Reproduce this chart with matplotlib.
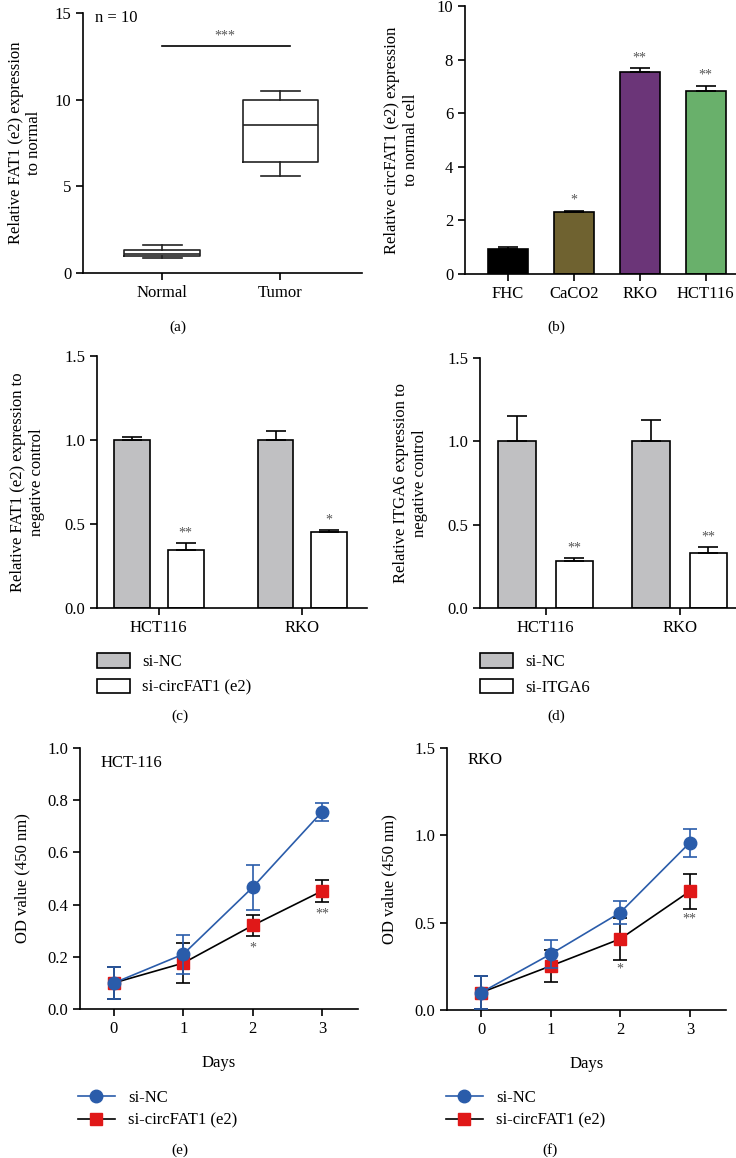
import numpy as np
import matplotlib
matplotlib.use("Agg")
import matplotlib.pyplot as plt
from matplotlib.patches import Patch
from matplotlib.lines import Line2D

plt.rcParams['font.family'] = ['Liberation Serif', 'DejaVu Serif']
plt.rcParams['font.size'] = 12

# (a) box plot
box_groups = ["Normal", "Tumor"]
box_whislo = [0.87, 5.62]
box_q1 = [1.0, 6.4]
box_med = [1.12, 8.52]
box_q3 = [1.3, 9.96]
box_whishi = [1.6, 10.5]

# (b) cell lines
cell_lines = ["FHC", "CaCO2", "RKO", "HCT116"]
cell_vals = [0.94, 2.3, 7.52, 6.82]
cell_err = [0.08, 0.05, 0.16, 0.21]
cell_stars = ["", "*", "**", "**"]
cell_colors = ["#000000", "#6f6230", "#6b3578", "#69b06b"]

# (c) / (d) knockdown bars
kd_groups = ["HCT116", "RKO"]
c_nc = [1.0, 1.0]
c_nc_err = [0.015, 0.055]
c_si = [0.345, 0.45]
c_si_err = [0.04, 0.015]
c_stars = ["**", "*"]
d_nc = [1.0, 1.0]
d_nc_err = [0.15, 0.13]
d_si = [0.28, 0.33]
d_si_err = [0.02, 0.035]
d_stars = ["**", "**"]

# (e) / (f) growth curves
days = [0, 1, 2, 3]
e_nc = [0.1, 0.21, 0.466, 0.755]
e_nc_err = [0.06, 0.075, 0.085, 0.033]
e_si = [0.1, 0.176, 0.32, 0.452]
e_si_err = [0.06, 0.078, 0.04, 0.042]
e_stars = ["", "", "*", "**"]
f_nc = [0.1, 0.32, 0.558, 0.958]
f_nc_err = [0.097, 0.08, 0.068, 0.08]
f_si = [0.1, 0.252, 0.407, 0.68]
f_si_err = [0.097, 0.09, 0.118, 0.1]
f_stars = ["", "", "*", "**"]

W, H = 736, 1158
fig = plt.figure(figsize=(W / 100, H / 100), dpi=100)


def px_axes(x0, y0, x1, y1):
    return fig.add_axes([x0 / W, 1 - y1 / H, (x1 - x0) / W, (y1 - y0) / H])


def style(ax):
    for s in ["top", "right"]:
        ax.spines[s].set_visible(False)
    for s in ["left", "bottom"]:
        ax.spines[s].set_linewidth(1.2)
    ax.tick_params(direction="out", length=5, width=1.2, labelsize=12)


star_kw = dict(ha="center", va="bottom", fontsize=10, color="#555555")

# ---- (a)
ax = px_axes(83, 13, 362, 273)
stats = []
for i, g in enumerate(box_groups):
    stats.append(dict(label=g, whislo=box_whislo[i], q1=box_q1[i], med=box_med[i],
                      q3=box_q3[i], whishi=box_whishi[i], fliers=[]))
ax.bxp(stats, positions=[0, 1], widths=0.64, showfliers=False,
       boxprops=dict(linewidth=1.2, color="#222222"),
       medianprops=dict(linewidth=1.2, color="#222222"),
       whiskerprops=dict(linewidth=1.2, color="#222222"),
       capprops=dict(linewidth=1.2, color="#222222"), capwidths=0.33)
ax.set_xlim(-0.67, 1.69)
ax.set_ylim(0, 15)
ax.set_yticks([0, 5, 10, 15])
ax.plot([0, 1.08], [13.1, 13.1], color="black", lw=1.2)
ax.text(0.53, 13.3, "***", **star_kw)
ax.text(-0.57, 14.7, "n = 10", ha="left", va="center", fontsize=12)
ax.set_ylabel("Relative FAT1 (e2) expression\nto normal", fontsize=12, labelpad=9)
style(ax)

# ---- (b)
ax = px_axes(465, 6, 740, 274)
xb = np.arange(len(cell_lines))
ax.bar(xb, cell_vals, width=0.61, color=cell_colors, edgecolor="black", linewidth=1.2)
ax.errorbar(xb, cell_vals, yerr=[np.zeros(len(xb)), cell_err], fmt="none",
            ecolor="black", elinewidth=1.2, capsize=7, capthick=1.2)
for x, v, e, s in zip(xb, cell_vals, cell_err, cell_stars):
    if s:
        ax.text(x, v + e + 0.15, s, **star_kw)
ax.set_xticks(xb)
ax.set_xticklabels(cell_lines)
ax.set_xlim(-0.65, 3.52)
ax.set_ylim(0, 10)
ax.set_yticks(range(0, 11, 2))
ax.set_ylabel("Relative circFAT1 (e2) expression\nto normal cell", fontsize=12,
              labelpad=13)
style(ax)


def kd_panel(box, nc, nc_err, si, si_err, stars, off, width, xlim, ylabel, si_label, leg_xy):
    ax = px_axes(*box)
    xg = np.arange(len(kd_groups))
    ax.bar(xg - off, nc, width=width, color="#c0c0c2", edgecolor="black", linewidth=1.2)
    ax.bar(xg + off, si, width=width, color="white", edgecolor="black", linewidth=1.2)
    ax.errorbar(xg - off, nc, yerr=[[0, 0], nc_err], fmt="none", ecolor="black",
                elinewidth=1.2, capsize=7, capthick=1.2)
    ax.errorbar(xg + off, si, yerr=[[0, 0], si_err], fmt="none", ecolor="black",
                elinewidth=1.2, capsize=7, capthick=1.2)
    for x, v, e, s in zip(xg + off, si, si_err, stars):
        ax.text(x, v + e + 0.02, s, **star_kw)
    ax.set_xticks(xg)
    ax.set_xticklabels(kd_groups)
    ax.set_xlim(*xlim)
    ax.set_ylim(0, 1.5)
    ax.set_yticks([0, 0.5, 1.0, 1.5])
    ax.set_yticklabels(["0.0", "0.5", "1.0", "1.5"])
    ax.set_ylabel(ylabel, fontsize=12, labelpad=14)
    style(ax)
    handles = [Patch(facecolor="#c0c0c2", edgecolor="black", linewidth=1.2),
               Patch(facecolor="white", edgecolor="black", linewidth=1.2)]
    fig.legend(handles, ["si-NC", si_label], loc="upper left",
               bbox_to_anchor=(leg_xy[0] / W, 1 - leg_xy[1] / H), frameon=False,
               handlelength=2.0, handleheight=1.0, handletextpad=0.7,
               labelspacing=0.5, borderpad=0, borderaxespad=0, fontsize=12)
    return ax


kd_panel((97, 356, 367, 608), c_nc, c_nc_err, c_si, c_si_err, c_stars, 0.187, 0.25,
         (-0.43, 1.45), "Relative FAT1 (e2) expression to\nnegative control",
         "si-circFAT1 (e2)", (97, 653))
kd_panel((480, 358, 740, 608), d_nc, d_nc_err, d_si, d_si_err, d_stars, 0.214, 0.28,
         (-0.49, 1.45), "Relative ITGA6 expression to\nnegative control",
         "si-ITGA6", (480, 653))


def growth_panel(box, nc, nc_err, si, si_err, stars, ymax, yticks, ylabels, name, name_y,
                 star_off, leg_xy):
    ax = px_axes(*box)
    blue = "#2a5caa"
    red = "#e01818"
    ax.errorbar(days, si, yerr=si_err, color="black", lw=1.2, marker="s", ms=8,
                mfc=red, mec=red, ecolor="black", elinewidth=1.2, capsize=5,
                capthick=1.2, zorder=2)
    ax.errorbar(days, nc, yerr=nc_err, color=blue, lw=1.2, marker="o", ms=9,
                mfc=blue, mec=blue, ecolor=blue, elinewidth=1.2, capsize=5,
                capthick=1.2, zorder=3)
    for x, v, e, s in zip(days, si, si_err, stars):
        if s:
            ax.text(x, v - e - star_off, s, ha="center", va="top", fontsize=10,
                    color="#555555")
    ax.set_xlim(-0.49, 3.52)
    ax.set_ylim(0, ymax)
    ax.set_xticks(days)
    ax.set_yticks(yticks)
    ax.set_yticklabels(ylabels)
    ax.set_xlabel("Days", fontsize=12, labelpad=13)
    ax.set_ylabel("OD value (450 nm)", fontsize=12, labelpad=12)
    ax.text(-0.2, name_y, name, ha="left", va="center", fontsize=12)
    style(ax)
    handles = [Line2D([], [], color=blue, lw=1.2, marker="o", ms=9),
               Line2D([], [], color="black", lw=1.2, marker="s", ms=8, mfc=red, mec=red)]
    fig.legend(handles, ["si-NC", "si-circFAT1 (e2)"], loc="upper left",
               bbox_to_anchor=(leg_xy[0] / W, 1 - leg_xy[1] / H), frameon=False,
               handlelength=2.2, handletextpad=0.8, labelspacing=0.4, borderpad=0,
               borderaxespad=0, fontsize=12)
    return ax


growth_panel((80, 748, 358, 1009), e_nc, e_nc_err, e_si, e_si_err, e_stars, 1.0,
             [0, 0.2, 0.4, 0.6, 0.8, 1.0], ["0.0", "0.2", "0.4", "0.6", "0.8", "1.0"],
             "HCT-116", 0.943, 0.02, (78, 1090))
growth_panel((447, 748, 726, 1010), f_nc, f_nc_err, f_si, f_si_err, f_stars, 1.5,
             [0, 0.5, 1.0, 1.5], ["0.0", "0.5", "1.0", "1.5"],
             "RKO", 1.43, 0.02, (446, 1090))

for lab, x, y in [("(a)", 178, 327), ("(b)", 556, 327), ("(c)", 180, 716),
                  ("(d)", 556, 716), ("(e)", 180, 1150), ("(f)", 550, 1150)]:
    fig.text(x / W, 1 - y / H, lab, ha="center", va="center", fontsize=11)

fig.savefig("out.png", dpi=100)
